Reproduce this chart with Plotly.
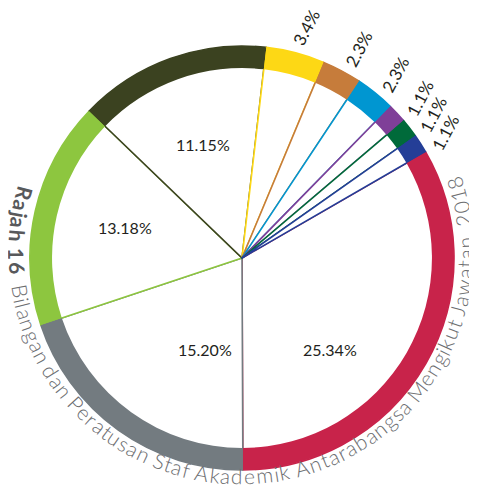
import math
import plotly.graph_objects as go

# Slice data (clockwise, starting at the red slice)
segments = ["Seg 1", "Seg 2", "Seg 3", "Seg 4", "Seg 5", "Seg 6", "Seg 7", "Seg 8", "Seg 9", "Seg 10"]
values = [25.34, 15.20, 13.18, 11.15, 3.4, 2.3, 2.3, 1.1, 1.1, 1.1]
pct_text = ["25.34%", "15.20%", "13.18%", "11.15%", "3.4%", "2.3%", "2.3%", "1.1%", "1.1%", "1.1%"]
colors = ["#c8234a", "#737b80", "#8dc63f", "#3b4220", "#fdd815",
          "#c67c3b", "#0096d1", "#7f3f98", "#006a3a", "#243e97"]

title_bold = "Rajah 16"
title_rest = "Bilangan dan Peratusan Staf Akademik Antarabangsa Mengikut Jawatan, 2018"

W, H = 477, 496
# the page adds an 8px body margin, so work in figure pixels
cx, cy, R = 242 - 8, 258 - 8, 212
rotation = 60

dom_x = [(cx - R) / W, (cx + R) / W]
dom_y = [(H - cy - R) / H, (H - cy + R) / H]


def paper(theta, r, ox=cx, oy=cy):
    t = math.radians(theta)
    return (ox + r * math.sin(t)) / W, (H - (oy - r * math.cos(t))) / H


fig = go.Figure()

# white pie, slice outlines give the coloured spokes
fig.add_trace(go.Pie(
    labels=segments, values=values, sort=False, direction="clockwise",
    rotation=rotation, domain=dict(x=dom_x, y=dom_y),
    marker=dict(colors=["white"] * len(values), line=dict(color=colors, width=1.6)),
    textinfo="none", showlegend=False, hoverinfo="skip",
))
# coloured outer ring
fig.add_trace(go.Pie(
    labels=segments, values=values, sort=False, direction="clockwise",
    rotation=rotation, domain=dict(x=dom_x, y=dom_y), hole=0.896,
    marker=dict(colors=colors, line=dict(width=0)),
    textinfo="none", showlegend=False, hoverinfo="skip",
))

annotations = []

# slice mid angles
total = sum(values)
mids = []
a = rotation
for v in values:
    span = v / total * 360
    mids.append(a + span / 2)
    a += span

# big labels sit inside, small ones outside the ring
inner_tweak = {0: (16, 127), 1: (-14, 99), 2: (2, 121), 3: (1, 120)}
for i, (m, t) in enumerate(zip(mids, pct_text)):
    if i in inner_tweak:
        da, rr = inner_tweak[i]
        x, y = paper(m + da, rr)
        annotations.append(dict(x=x, y=y, xref="paper", yref="paper", text=t,
                                showarrow=False, xanchor="center", yanchor="middle",
                                font=dict(family="Lato", size=16, color="#231f20")))
    else:
        x, y = paper(m + 1, 239)
        annotations.append(dict(x=x, y=y, xref="paper", yref="paper", text=t,
                                showarrow=False, xanchor="center", yanchor="middle",
                                textangle=-62,
                                font=dict(family="Lato", size=17, color="#231f20")))

# curved caption around the left / bottom / right of the ring
em = {" ": 0.22, "R": 0.62, "a": 0.5, "j": 0.24, "h": 0.56, "1": 0.58, "6": 0.58,
      "B": 0.63, "i": 0.24, "l": 0.24, "n": 0.56, "g": 0.52, "d": 0.57, "P": 0.59,
      "e": 0.53, "r": 0.37, "t": 0.36, "u": 0.56, "s": 0.43, "S": 0.52, "f": 0.33,
      "A": 0.68, "k": 0.5, "m": 0.84, "b": 0.57, "M": 0.86, "J": 0.39, "w": 0.78,
      ",": 0.22, "0": 0.58, "2": 0.58, "8": 0.58}
chars = [(c, True) for c in title_bold] + [(" ", False), (" ", False)] + [(c, False) for c in title_rest]
widths = [em.get(c, 0.55) * (1.06 if b else 1.0) for c, b in chars]
tx, ty, r_text = cx - 1, cy - 6, 224
start_deg, end_deg = 287.0, 70.5
arc = math.radians(start_deg - end_deg) * r_text
px_per_em = arc / sum(widths)
cum = 0
for (c, b), w in zip(chars, widths):
    s = (cum + w / 2) * px_per_em
    cum += w
    if c == " ":
        continue
    theta = start_deg - math.degrees(s / r_text)
    x, y = paper(theta, r_text, tx, ty)
    annotations.append(dict(x=x, y=y, xref="paper", yref="paper", text=c,
                            showarrow=False, xanchor="center", yanchor="middle",
                            textangle=theta - 180,
                            font=dict(family="Lato", size=21,
                                      color="#58595b" if b else "#6d6e71",
                                      weight=700 if b else 300)))

fig.update_layout(
    width=W, height=H,
    margin=dict(l=0, r=0, t=0, b=0),
    paper_bgcolor="white", plot_bgcolor="white",
    annotations=annotations,
)

fig.write_html("out.html")
